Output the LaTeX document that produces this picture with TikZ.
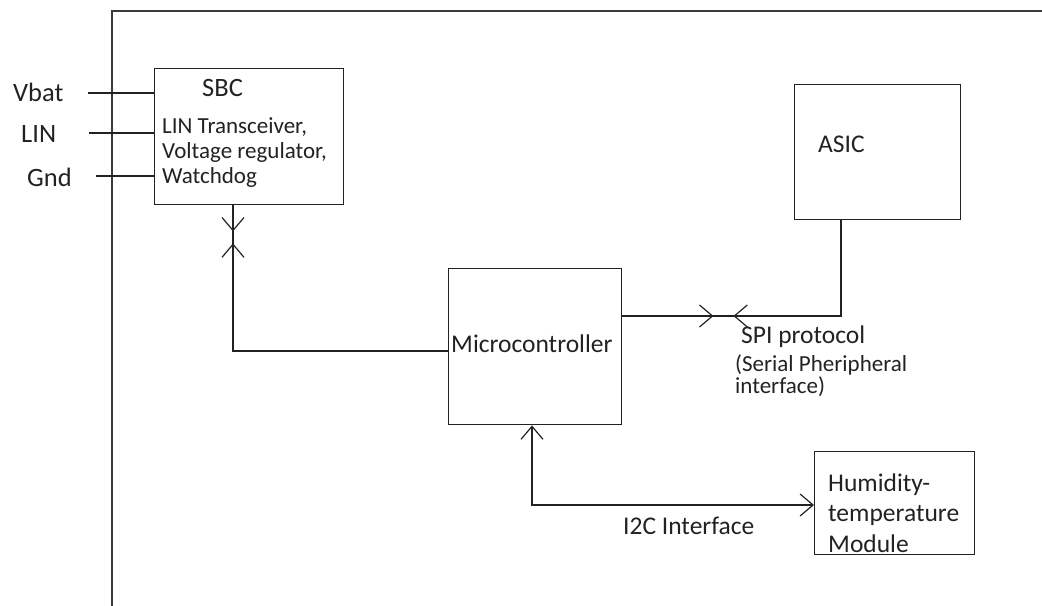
\documentclass[tikz,border=0pt]{standalone}
\usepackage{fontspec}
\setmainfont{Carlito}
\usetikzlibrary{arrows.meta,decorations.markings}
\definecolor{ink}{HTML}{222222}
\definecolor{frameink}{HTML}{3A3A3A}

\begin{document}
\begin{tikzpicture}[x=1bp,y=-1bp,
  wire/.style={draw=ink, line width=1.4bp},
  box/.style={draw=ink, line width=1.4bp, inner sep=0, anchor=north west},
  barb/.tip={Straight Barb[length=13bp,width=22bp,line width=1.2bp]},
  lbl/.style={font=\fontsize{25.5bp}{31bp}\selectfont, text=ink, inner sep=0, anchor=base west},
  sml/.style={font=\fontsize{23bp}{24bp}\selectfont, text=ink, inner sep=0, anchor=base west}
]
\useasboundingbox (0,0) rectangle (1042,606);

% enclosing frame
\draw[draw=frameink, line width=2.2bp] (112,606) -- (112,11) -- (1042,11);

% blocks
\node[box, minimum width=189bp, minimum height=136bp] (sbc)   at (154,68)  {};
\node[box, minimum width=173bp, minimum height=156bp] (micro) at (448,268) {};
\node[box, minimum width=166bp, minimum height=135bp] (asic)  at (794,84)  {};
\node[box, minimum width=160bp, minimum height=103bp] (hum)   at (814,451) {};

% block texts
\node[lbl, font=\fontsize{26.5bp}{31bp}\selectfont] (sbct) at (202,97) {SBC};
\node[sml] (sbc1) at (162,134) {LIN Transceiver,};
\node[sml] (sbc2) at (162,159) {Voltage regulator,};
\node[sml] (sbc3) at (162,184) {Watchdog};
\node[lbl] (asict)  at (818,153) {ASIC};
\node[lbl] (microt) at (451,352) {Microcontroller};
\node[lbl] (hum1) at (828,491) {Humidity-};
\node[lbl] (hum2) at (828,521) {temperature};
\node[lbl] (hum3) at (828,552) {Module};

% supply and bus pins
\node[lbl, font=\fontsize{26.5bp}{31bp}\selectfont] (vbat) at (13,102) {Vbat};
\node[lbl, font=\fontsize{26.5bp}{31bp}\selectfont] (lin)  at (21,143) {LIN};
\node[lbl, font=\fontsize{26.5bp}{31bp}\selectfont] (gnd)  at (27,187) {Gnd};
\coordinate (pvbat) at (88,93);
\coordinate (plin)  at (89,133);
\coordinate (pgnd)  at (96,176);
\draw[wire] (pvbat) -- (pvbat -| sbc.west);
\draw[wire] (plin)  -- (plin -| sbc.west);
\draw[wire] (pgnd)  -- (pgnd -| sbc.west);

% SBC <-> microcontroller
\coordinate (c1) at (233,351);
\draw[wire, postaction={decorate}, decoration={markings,
    mark=at position 26bp with {\arrow{barb}},
    mark=at position 38bp with {\arrowreversed{barb}}}]
  (c1 |- sbc.south) -- (c1) -- (c1 -| micro.west);

% microcontroller <-> ASIC (SPI)
\coordinate (c2) at (841,316);
\draw[wire, postaction={decorate}, decoration={markings,
    mark=at position 91bp with {\arrow{barb}},
    mark=at position 111bp with {\arrowreversed{barb}}}]
  (c2 -| micro.east) -- (c2) -- (c2 |- asic.south);
\node[lbl] (spi1) at (741,343) {SPI protocol};
\node[sml] (spi2) at (735,371) {(Serial Pheripheral};
\node[sml] (spi3) at (735,393) {interface)};

% microcontroller <-> humidity-temperature module (I2C)
\coordinate (c3) at (532,505);
\draw[wire, {barb}-{barb}] (c3 |- micro.south) -- (c3) -- (c3 -| hum.west);
\node[lbl] (i2c) at (623,534) {I2C Interface};
\end{tikzpicture}
\end{document}
